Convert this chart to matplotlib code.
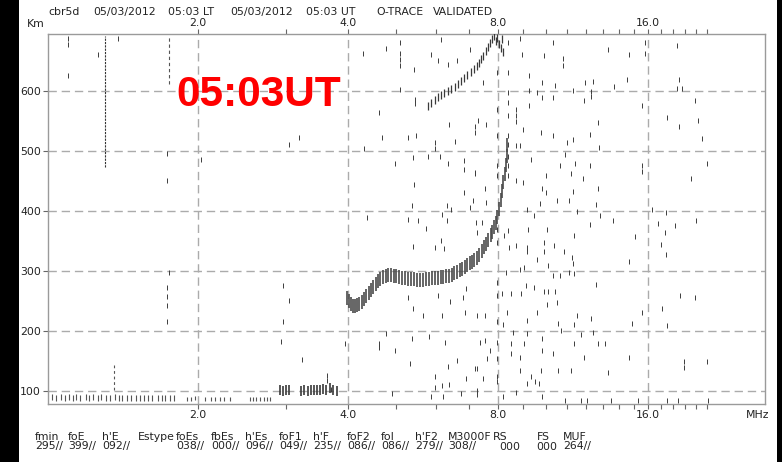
import matplotlib
matplotlib.use("Agg")
import matplotlib.pyplot as plt
from matplotlib.patches import Rectangle
from matplotlib.ticker import FixedLocator, NullFormatter, FixedFormatter

# ---------------------------------------------------------------- header text
header_items = ["cbr5d", "05/03/2012", "05:03 LT", "05/03/2012", "05:03 UT",
                "O-TRACE", "VALIDATED"]
stamp_text = "05:03UT"

# scaled ionospheric parameters (name row / value row)
param_names = ["fmin", "foE", "h'E", "Estype", "foEs", "fbEs", "h'Es", "foF1",
               "h'F", "foF2", "foI", "h'F2", "M3000F", "RS", "FS", "MUF"]
param_values = ["295//", "399//", "092//", "", "038//", "000//", "096//",
                "049//", "235//", "086//", "086//", "279//", "308//", "000",
                "000", "264//"]

# ---------------------------------------------------------------- axes scales
freq_major = [2.0, 4.0, 8.0, 16.0]
freq_major_labels = ["2.0", "4.0", "8.0", "16.0"]
freq_minor = [3, 5, 6, 7, 9, 10, 11, 12, 13, 14, 15, 17, 18, 19, 20, 21]
height_ticks = [100, 200, 300, 400, 500, 600]

# ---------------------------------------------------------------- echo data
# F2 trace (MHz, virtual height km)
f2_freq = [3.98, 4.02, 4.06, 4.10, 4.14, 4.18, 4.22, 4.26, 4.30, 4.35, 4.40,
           4.45, 4.50, 4.55, 4.60, 4.65, 4.70, 4.76, 4.82, 4.88, 4.94, 5.00,
           5.07, 5.14, 5.21, 5.28, 5.35, 5.42, 5.50, 5.58, 5.66, 5.74, 5.82,
           5.90, 5.98, 6.06, 6.14, 6.22, 6.30, 6.38, 6.46, 6.54, 6.62, 6.70,
           6.78, 6.86, 6.94, 7.02, 7.10, 7.18, 7.26, 7.34, 7.42, 7.50, 7.58,
           7.66, 7.74, 7.80, 7.86, 7.92, 7.98, 8.04, 8.10, 8.16, 8.21, 8.25,
           8.29, 8.33, 8.36]
f2_height = [255, 250, 245, 242, 241, 243, 245, 249, 253, 258, 263,
             268, 273, 278, 283, 287, 290, 292, 293, 293, 292, 291,
             290, 289, 288, 287, 286, 286, 285, 285, 285, 286, 287,
             288, 288, 289, 290, 290, 291, 292, 294, 296, 298, 301,
             304, 307, 310, 313, 316, 319, 322, 327, 333, 340, 346,
             352, 360, 366, 373, 381, 391, 403, 418, 433, 448, 462,
             477, 492, 510]

# second-hop F2 echo
f2m_freq = [5.80, 5.88, 5.97, 6.06, 6.15, 6.25, 6.35, 6.45, 6.55, 6.65, 6.75,
            6.85, 6.95, 7.05, 7.15, 7.25, 7.32, 7.40, 7.48, 7.56, 7.64, 7.72,
            7.80, 7.86, 7.92, 7.98, 8.05, 8.10, 8.15, 8.20]
f2m_height = [575, 580, 585, 590, 594, 598, 601, 604, 608, 612, 617,
              622, 627, 632, 637, 643, 648, 654, 660, 667, 674, 681,
              688, 692, 685, 690, 680, 672, 688, 666]

# F1 / E region echoes near 100 km
f1_freq = [2.92, 2.96, 3.00, 3.04, 3.22, 3.27, 3.32, 3.37, 3.42, 3.47, 3.52,
           3.57, 3.62, 3.68, 3.74, 3.80]
f1_height = [101, 100, 102, 101, 100, 101, 100, 101, 102, 101, 102,
             103, 102, 104, 101, 100]

# low-frequency ground echoes
low_freq = [1.02, 1.04, 1.06, 1.08, 1.10, 1.12, 1.14, 1.16, 1.19, 1.21, 1.23,
            1.26, 1.28, 1.31, 1.33, 1.36, 1.39, 1.41, 1.44, 1.47, 1.50, 1.53,
            1.56, 1.59, 1.62, 1.66, 1.69, 1.72, 1.76, 1.79]
low_height = [89, 88, 89, 88, 89, 88, 89, 88, 89, 88, 89,
              88, 89, 88, 88, 89, 88, 88, 88, 88, 88, 88,
              88, 88, 88, 88, 88, 88, 88, 88]
es_freq = [1.90, 1.94, 1.97, 2.07, 2.12, 2.16, 2.21, 2.26, 2.32, 2.54, 2.58,
           2.62, 2.66, 2.71, 2.75, 2.79]
es_height = [87, 87, 88, 87, 87, 87, 87, 87, 87, 87, 87,
             87, 87, 87, 87, 87]

# fixed-frequency interference (MHz, lowest km, highest km)
intf_freq = [1.30, 1.75, 1.357]
intf_low = [474, 612, 102]
intf_high = [692, 692, 146]

# scattered echoes
noise_freq = [
    1.095, 1.095, 1.095, 1.26, 1.38, 1.73, 1.73, 1.75, 1.73, 1.73, 1.73, 1.73,
    2.03, 3.04, 3.19, 2.96, 3.04, 2.96, 2.93, 3.23, 3.63, 3.63, 3.95, 3.70,
    4.28, 4.78, 5.10, 5.10, 5.10, 5.10, 5.10, 5.43, 5.88, 6.15, 6.06, 6.36,
    6.62, 7.03, 4.61, 4.68, 5.27, 5.49, 4.30, 4.97, 5.41, 5.80, 5.99, 5.99,
    6.12, 6.36, 6.83, 6.83, 7.19, 6.39, 6.56, 7.21, 5.43, 5.37, 5.27, 5.53,
    5.75, 5.41, 5.99, 6.24, 6.14, 6.31, 6.43, 6.33, 6.19, 6.83, 7.13, 7.03,
    7.23, 4.37, 5.29, 5.40, 5.67, 6.06, 6.19, 6.41, 6.81, 6.92, 6.87, 7.25,
    4.76, 4.61, 4.61, 4.97, 5.37, 5.82, 6.27, 5.32, 6.62, 6.36, 7.19, 6.92,
    5.99, 5.99, 6.19, 6.39, 5.88, 6.22, 6.76, 7.25, 4.90, 5.45, 5.45,
    7.97, 7.97, 7.97, 7.97, 7.97, 7.97, 7.97, 7.97, 7.97, 7.97, 7.97, 7.97,
    7.97, 7.97,
    8.40, 8.40, 8.40, 8.40, 8.40, 8.40, 8.40, 8.40, 8.40, 8.40,
    8.70, 8.70, 8.70, 8.70, 8.70,
    8.86, 8.93, 9.23, 9.23, 9.23, 9.00, 8.86, 9.33, 9.00, 9.83, 9.90, 10.33,
    10.8, 10.8, 10.33, 9.83, 9.57, 10.4, 11.3, 11.96, 11.9, 12.3, 12.3, 12.4,
    13.7, 13.3, 9.76, 10.33, 11.0, 11.3, 10.9, 12.25, 12.7, 12.75, 10.65,
    12.25, 11.45, 10.0, 11.2, 11.85, 9.83, 10.0, 11.3, 12.7, 9.71, 10.5, 11.1,
    12.6, 9.15, 9.46, 11.55, 12.82, 13.6, 12.25, 9.2, 10.05, 8.4, 8.23, 9.15,
    9.15, 9.9, 10.35, 11.4, 9.9, 8.44, 8.7, 10.85, 11.25, 9.57, 9.04, 10.1,
    11.3, 8.3, 8.86, 10.3, 10.65, 11.1, 11.4, 12.6, 10.1, 10.4, 9.9, 8.52,
    8.89, 9.1, 9.44, 8.15, 10.05, 10.5, 8.35, 9.15, 9.57, 10.55, 11.55, 12.3,
    11.35, 8.2, 7.53, 8.57, 9.15, 10.7, 11.75, 12.4, 7.36, 7.53, 7.7, 7.62,
    8.52, 9.04, 9.83, 11.35, 12.7, 13.1, 8.52, 9.83, 10.33, 11.9, 8.86, 7.25,
    7.46, 8.86, 9.33, 9.5, 9.78, 10.55, 11.2, 13.3, 9.15, 9.66, 8.7, 8.2,
    9.83, 10.9, 11.75, 12.1, 13.5, 7.25, 7.19, 7.53, 7.58, 7.42, 7.25, 7.31,
    7.58, 7.19, 7.46,
    15.6, 15.6, 15.6, 15.6, 14.7, 14.55, 18.27, 18.45, 18.3, 18.7, 19.87,
    17.5, 18.5, 20.2, 20.6, 21.0, 19.5, 16.3, 17.4, 20.0, 18.1, 16.8, 17.3,
    15.1, 17.0, 17.4, 14.7, 18.6, 19.9, 17.1, 14.9, 17.5, 14.7, 18.9, 18.9,
    21.0, 15.3, 17.5, 18.4, 21.1, 15.8, 15.8]
noise_height = [
    690, 680, 628, 663, 689, 498, 452, 299, 274, 258, 243, 216,
    488, 513, 524, 277, 252, 217, 183, 153, 127, 118, 180, 103,
    665, 672, 682, 665, 655, 645, 604, 637, 663, 688, 652, 646,
    653, 671, 566, 524, 524, 528, 506, 481, 491, 493, 515, 505,
    493, 480, 485, 470, 464, 546, 517, 543, 446, 410, 387, 385,
    372, 342, 341, 339, 352, 410, 404, 385, 396, 432, 418, 407,
    382, 391, 256, 238, 226, 260, 226, 250, 257, 271, 232, 227,
    196, 180, 173, 168, 188, 192, 182, 146, 152, 141, 138, 121,
    124, 107, 110, 111, 91, 91, 96, 95, 96, 588, 580,
    632, 571, 527, 477, 460, 371, 349, 282, 260, 216, 182, 155,
    124, 116,
    682, 632, 599, 582, 560, 527, 513, 493, 477, 460,
    571, 560, 550, 510, 452,
    690, 663, 627, 602, 577, 538, 510, 487, 448, 616, 661, 682,
    656, 645, 591, 590, 599, 610, 602, 616, 585, 600, 592, 618,
    609, 671, 533, 527, 516, 521, 496, 529, 549, 507, 477,
    477, 480, 461, 464, 455, 438, 432, 434, 438, 414, 418, 418,
    412, 404, 393, 400, 394, 385, 378, 371, 371, 368, 360, 341,
    333, 349, 343, 360, 333, 341, 344, 333, 324, 320, 307, 310,
    313, 298, 304, 293, 293, 298, 296, 278, 267, 266, 266, 263,
    263, 276, 273, 263, 245, 249, 231, 218, 232, 214, 226, 221,
    211, 211, 227, 199, 196, 202, 195, 199, 182, 185, 168, 154,
    180, 180, 188, 180, 180, 180, 163, 168, 163, 157, 157, 138,
    121, 135, 124, 116, 135, 135, 135, 131, 113, 113, 98, 91,
    91, 85, 85, 85, 85, 102, 466, 438, 416, 382, 366, 552,
    546, 532, 616,
    578, 477, 468, 231, 663, 621, 678, 621, 606, 606, 585,
    557, 542, 553, 522, 480, 456, 403, 399, 385, 377, 381, 365,
    358, 346, 328, 317, 260, 256, 239, 214, 210, 157, 149, 140,
    150, 85, 85, 85, 85, 683, 665]

# ---------------------------------------------------------------- figure
W, H = 782, 462
DPI = 100
fig = plt.figure(figsize=(W / DPI, H / DPI), dpi=DPI, facecolor="white")
# dark side bands
fig.patches.append(Rectangle((0, 0), 19 / W, 1, transform=fig.transFigure,
                             facecolor="black", edgecolor="none", zorder=-5))
fig.patches.append(Rectangle((777 / W, 0), 1, 1, transform=fig.transFigure,
                             facecolor="black", edgecolor="none", zorder=-5))


def fx(px):
    return px / W


def fy(py):
    return 1 - py / H


ax_left, ax_right, ax_top, ax_bottom = 48, 765, 34, 404
ax = fig.add_axes([fx(ax_left), fy(ax_bottom), (ax_right - ax_left) / W,
                   (ax_bottom - ax_top) / H])
ax.set_facecolor("white")
ax.set_xscale("log", base=2)
ax.set_xlim(1.0, 27.5)
ax.set_ylim(78, 696)

text_col = "#222222"
frame_col = "#9a9a9a"
grid_col = "#ababab"
ink = "#3a3a3a"
fs = 7.8

for s in ax.spines.values():
    s.set_color(frame_col)
    s.set_linewidth(1.0)

ax.xaxis.set_major_locator(FixedLocator(freq_major))
ax.xaxis.set_major_formatter(FixedFormatter(freq_major_labels))
ax.xaxis.set_minor_locator(FixedLocator(freq_minor))
ax.xaxis.set_minor_formatter(NullFormatter())
ax.yaxis.set_major_locator(FixedLocator(height_ticks))
ax.yaxis.set_minor_locator(FixedLocator([]))
ax.tick_params(axis="x", which="both", direction="out", length=3.5,
               width=0.8, color="#666666", top=True, labeltop=True,
               labelsize=fs, labelcolor=text_col, pad=0.5)
ax.tick_params(axis="y", which="both", direction="out", length=3.5,
               width=0.8, color="#666666", labelsize=fs, labelcolor=text_col,
               pad=1.5)

# dashed reference grid
for h in height_ticks:
    ax.axhline(h, color=grid_col, lw=1.0, ls=(0, (6, 3.5)), zorder=1)
for f in freq_major:
    ax.axvline(f, color=grid_col, lw=1.0, ls=(0, (6, 3.5)), zorder=1)

# interference columns
intf_style = [("#333333", (0, (2.0, 1.0))), ("#555555", (0, (3.0, 2.5))),
              ("#555555", (0, (2.5, 2.5)))]
for (f, lo, hi), (c, ls) in zip(zip(intf_freq, intf_low, intf_high),
                                intf_style):
    ax.plot([f, f], [lo, hi], color=c, lw=0.8, ls=ls, zorder=2)

# echoes, drawn as short vertical strokes
ax.plot(noise_freq, noise_height, ls="none", marker="|", ms=3.6, mew=0.7,
        color="#3c3c3c", zorder=3)
ax.plot(low_freq, low_height, ls="none", marker="|", ms=4.5, mew=0.8,
        color="#555555", zorder=3)
ax.plot(es_freq, es_height, ls="none", marker="|", ms=2.2, mew=0.8,
        color="#555555", zorder=3)
ax.plot(f1_freq, f1_height, ls="none", marker="|", ms=6.5, mew=1.2,
        color="#3a3a3a", zorder=3)
ax.plot(f2m_freq, f2m_height, ls="none", marker="|", ms=6.0, mew=0.9,
        color="#3a3a3a", zorder=3)
ax.plot(f2_freq, f2_height, ls="none", marker="|", ms=10.0, mew=1.2,
        color="#4a4a4a", zorder=4)

# header line
header_x = [48, 93, 168, 230, 306, 376, 433]
for x, t in zip(header_x, header_items):
    fig.text(fx(x), fy(12.0), t, fontsize=fs, color=text_col,
             ha="left", va="center")
fig.text(fx(27), fy(24), "Km", fontsize=fs, color=text_col,
         ha="left", va="center")
fig.text(fx(746), fy(415), "MHz", fontsize=fs, color=text_col,
         ha="left", va="center")

# time stamp
fig.text(fx(176), fy(105.5), stamp_text, fontsize=30.5, fontweight="bold",
         family="Liberation Sans", color="#ff0000", ha="left",
         va="baseline", zorder=10)

# parameter table
name_x = [35, 68, 102, 138, 176, 211, 245, 279, 313, 347, 381, 415, 448,
          493, 537, 563]
value_x = [35, 68, 102, 138, 176, 211, 245, 279, 313, 347, 381, 415, 448,
           499, 536, 563]
for x, t in zip(name_x, param_names):
    fig.text(fx(x), fy(436.5), t, fontsize=fs, color=text_col,
             ha="left", va="center")
for x, t in zip(value_x, param_values):
    fig.text(fx(x), fy(446.5), t, fontsize=fs, color=text_col,
             ha="left", va="center")

fig.savefig("out.png", dpi=DPI, facecolor=fig.get_facecolor())
